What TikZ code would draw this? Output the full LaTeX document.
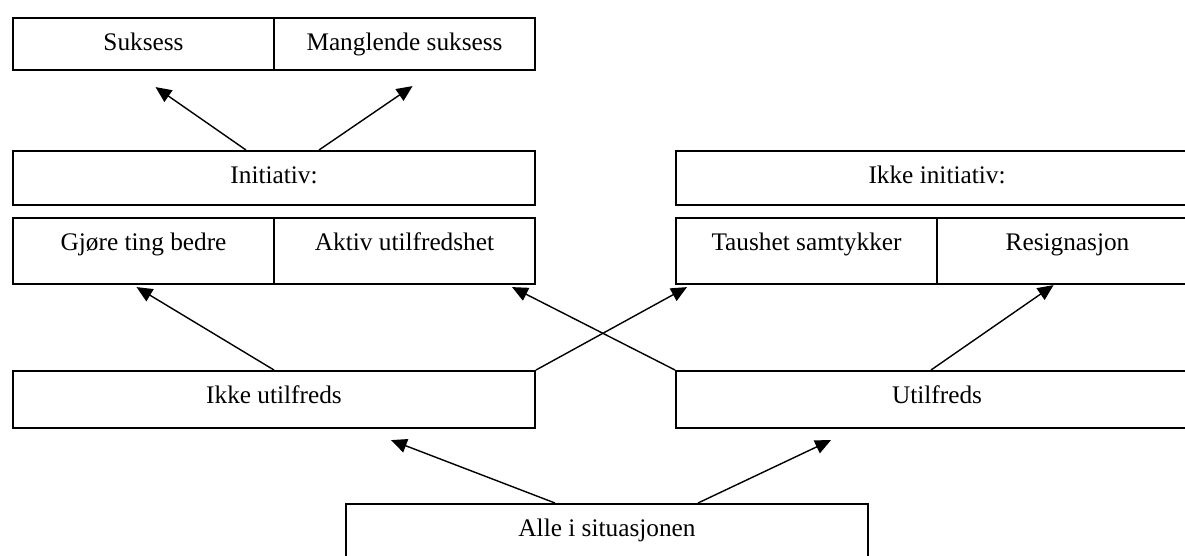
\documentclass[tikz,border=0pt]{standalone}
\usepackage{fontspec}
\setmainfont{Liberation Serif}
\usetikzlibrary{calc, arrows.meta}
\newcommand{\felttekst}{\fontsize{14.4}{17}\selectfont}
\tikzset{
    felt/.style={rectangle, draw=black, line width=1.2pt, inner xsep=0pt, inner ysep=0pt, text height=0.65cm, anchor=north west, font=\felttekst},
    hel/.style={felt, minimum width=10.44cm},
    halv/.style={felt, minimum width=5.22cm},
    pil/.style={-{Triangle[length=9pt, width=8pt]}, line width=0.8pt, color=black},
}
\begin{document}
\begin{tikzpicture}[x=0.02cm, y=-0.02cm]
                \useasboundingbox (0,0) rectangle (1185,555);

                % Resultat
                \node[halv, text depth=0.39cm] (suksess) at (12,17) {Suksess};
                \node[halv, text depth=0.39cm] (mangl) at (273,17) {Manglende suksess};

                % Initiativ (venstre)
                \node[hel, text depth=0.43cm] (init) at (12,150) {Initiativ:};
                \node[halv, text depth=0.67cm] (bedre) at (12,217) {Gjøre ting bedre};
                \node[halv, text depth=0.67cm] (aktiv) at (273,217) {Aktiv utilfredshet};

                % Ikke initiativ (hoyre)
                \node[hel, text depth=0.43cm] (ikkeinit) at (675,150) {Ikke initiativ:};
                \node[halv, text depth=0.67cm] (taushet) at (675,217) {Taushet samtykker};
                \node[halv, text depth=0.67cm] (resign) at (936,217) {Resignasjon};

                % Tilfredshet
                \node[hel, text depth=0.49cm] (ikkeutilf) at (12,370) {Ikke utilfreds};
                \node[hel, text depth=0.49cm] (utilf) at (675,370) {Utilfreds};

                % Utgangspunkt
                \node[hel, text depth=0.49cm] (alle) at (345,503) {Alle i situasjonen};

                % Piler
                \draw[pil] ($(init.north)+(-28,0)$) -- ($(suksess.south)+(12,16)$);
                \draw[pil] ($(init.north)+(45,0)$) -- ($(mangl.south)+(8,15)$);
                \draw[pil] (ikkeutilf.north) -- ($(bedre.south)+(-7,2)$);
                \draw[pil] (ikkeutilf.north east) -- ($(taushet.south west)+(12,2)$);
                \draw[pil] (utilf.north west) -- ($(aktiv.south east)+(-24,2)$);
                \draw[pil] ($(utilf.north)+(-6,0)$) -- ($(resign.south)+(-14,0)$);
                \draw[pil] ($(alle.north)+(-52,0)$) -- ($(ikkeutilf.south)+(117,11)$);
                \draw[pil] ($(alle.north)+(91,0)$) -- ($(utilf.south)+(-106,11)$);
            \end{tikzpicture}
\end{document}
